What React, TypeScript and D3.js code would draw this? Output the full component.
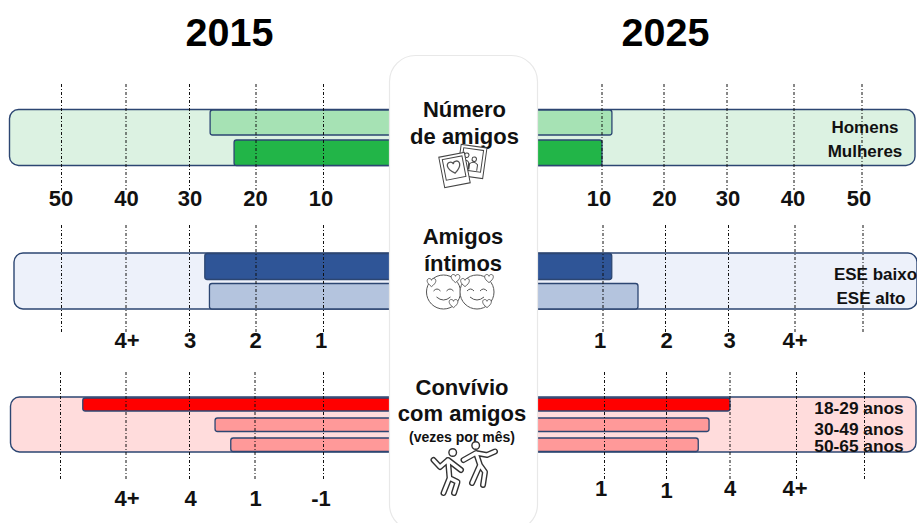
import React from "react";
import * as d3 from "d3";

// ---------- data ----------
const years = ["2015", "2025"];

const friendsCategories = ["Homens", "Mulheres"];
const friends2015 = [26.9, 23.3];
const friends2025 = [11.6, 10.0];
const friendsTicks = ["50", "40", "30", "20", "10"];
const friendsTicksRight = ["10", "20", "30", "40", "50"];

const closeCategories = ["ESE baixo", "ESE alto"];
const close2015 = [2.77, 2.7];
const close2025 = [1.14, 1.56];
const closeTicks = ["", "4+", "3", "2", "1"];
const closeTicksRight = ["1", "2", "3", "4+", ""];

const socialCategories = ["18-29 anos", "30-49 anos", "50-65 anos"];
const social2015 = [4.66, 2.61, 2.37];
const social2025 = [3.0, 2.67, 2.5];
const socialTicks = ["", "4+", "4", "1", "-1"];
const socialTicksRight = ["1", "1", "4", "4+", ""];

// tick steps: 5 = outermost gridline, 1 = innermost
const steps = [5, 4, 3, 2, 1];

// ---------- layout ----------
const FONT = "'Liberation Sans', Arial, sans-serif";
const STROKE = "#2c4672";

type Panel = {
  x: number; x1: number; y0: number; y1: number; bg: string; colors: string[];
  bars: [number, number][]; v2015: number[]; v2025: number[]; unit: number;
  cats: string[]; catX: number[]; catY: number[]; catSize: number;
  gridL: number[]; gridR: number[]; gridY: [number, number];
  ticksL: string[]; ticksR: string[];
  labL: number[]; labR: number[]; baseL: number; baseR: number[];
};

const panels: Panel[] = [
  {
    x: 9.5, x1: 915, y0: 109.5, y1: 165.5, bg: "#dcf2e2", colors: ["#a6e2b4", "#22b548"],
    bars: [[110, 135], [140, 165.5]], v2015: friends2015, v2025: friends2025, unit: 10,
    cats: friendsCategories, catX: [865, 865], catY: [132.5, 156.5], catSize: 17,
    gridL: [61.5, 126, 189.5, 256, 323.5], gridR: [602, 664, 727, 794, 862], gridY: [84, 190],
    ticksL: friendsTicks, ticksR: friendsTicksRight,
    labL: [61, 126.5, 190, 255.5, 321], labR: [599, 664.5, 728, 793, 859], baseL: 205.5,
    baseR: [206, 206, 206, 206, 206],
  },
  {
    x: 14, x1: 917, y0: 253, y1: 309, bg: "#edf1fa", colors: ["#2f5597", "#b4c4de"],
    bars: [[253.5, 279.5], [283.5, 309]], v2015: close2015, v2025: close2025, unit: 1,
    cats: closeCategories, catX: [875.5, 871], catY: [280, 303.5], catSize: 17,
    gridL: [61.5, 126, 189.5, 256, 323.5], gridR: [603, 665.5, 728.5, 795, 863], gridY: [225, 333],
    ticksL: closeTicks, ticksR: closeTicksRight,
    labL: [61, 127, 190, 255.5, 321], labR: [600, 666.5, 729.5, 795, 860], baseL: 347.5,
    baseR: [347.5, 347.5, 347.5, 347.5, 347.5],
  },
  {
    x: 10.5, x1: 916, y0: 397, y1: 452, bg: "#ffdcdc", colors: ["#ff0000", "#ff9999", "#ff9999"],
    bars: [[398, 411], [418, 431.5], [438, 451.5]], v2015: social2015, v2025: social2025, unit: 1,
    cats: socialCategories, catX: [859, 859, 859], catY: [414, 435, 452], catSize: 17.3,
    gridL: [60.5, 126, 189.5, 255, 323.5], gridR: [604.5, 666.5, 730, 796.5, 864.5], gridY: [372, 480],
    ticksL: socialTicks, ticksR: socialTicksRight,
    labL: [60, 127, 190.5, 255.5, 321], labR: [601, 666.5, 730, 795, 860], baseL: 505.5,
    baseR: [495.5, 497.5, 495.5, 495.5, 495.5],
  },
];

const Heart = ({ x, y, s = 1 }: { x: number; y: number; s?: number }) => (
  <path
    transform={`translate(${x},${y}) scale(${s})`}
    d="M0,4 C-7,-1 -5,-5 -2.5,-5 C-1,-5 0,-4 0,-3 C0,-4 1,-5 2.5,-5 C5,-5 7,-1 0,4 Z"
    fill="#fff" stroke="#555" strokeWidth={1}
  />
);

const Smiley = ({ cx, cy }: { cx: number; cy: number }) => (
  <g fill="none" stroke="#555" strokeWidth={1}>
    <circle cx={cx} cy={cy} r={17} fill="#fff" />
    <path d={`M${cx - 10},${cy - 1} q3.5,-4 7,0`} />
    <path d={`M${cx + 3},${cy - 1} q3.5,-4 7,0`} />
    <path d={`M${cx - 7},${cy + 5} q7,6 14,0`} />
    <Heart x={cx - 12} y={cy - 9} s={0.9} />
    <Heart x={cx + 12} y={cy - 13} s={0.9} />
    <Heart x={cx + 10} y={cy + 12} s={0.9} />
  </g>
);

const Polaroids = () => (
  <g fill="#fff" stroke="#444" strokeWidth={1}>
    <g transform="rotate(8 472 161)">
      <rect x={459} y={146} width={26} height={31} />
      <rect x={462} y={149} width={20} height={22} />
      <circle cx={466} cy={156} r={2.2} />
      <circle cx={474} cy={159} r={2.2} />
      <path d="M463,170 v-7 q3,-4 6,0 v7 M470,170 v-6 q4,-4 8,0 v6" fill="none" />
    </g>
    <g transform="rotate(-11 454.5 170)">
      <rect x={441.5} y={154.5} width={26} height={31} />
      <rect x={444.5} y={157.5} width={20} height={21} />
      <Heart x={454.5} y={168} s={1.3} />
    </g>
  </g>
);

const limbs1 = "M433.5,460 L440,467 L448,460 L461,470 M448,460 L449.5,478 L443.5,493 M449.5,478 L457.5,482 L454,493";
const limbs2 = "M463.5,460 L476,453 L487,455 L495,451.5 M476,453 L480,465 L472,483 M480,465 L485,472 L483,485";

const Dancers = () => (
  <g fill="none" strokeLinecap="round" strokeLinejoin="round">
    <path d={limbs1} stroke="#333" strokeWidth={6} />
    <path d={limbs2} stroke="#333" strokeWidth={6} />
    <path d={limbs1} stroke="#fff" strokeWidth={3.2} />
    <path d={limbs2} stroke="#fff" strokeWidth={3.2} />
    <circle cx={452.7} cy={452.5} r={3.8} fill="#fff" stroke="#333" strokeWidth={1.4} />
    <circle cx={475.7} cy={445.5} r={3.8} fill="#fff" stroke="#333" strokeWidth={1.4} />
  </g>
);

const PanelView = ({ p }: { p: Panel }) => {
  const left = d3.scaleLinear().domain(steps).range(p.gridL);
  const right = d3.scaleLinear().domain([...steps].reverse()).range(p.gridR);
  const gridLine = d3.line();
  return (
    <g>
      <rect x={p.x} y={p.y0} width={p.x1 - p.x} height={p.y1 - p.y0} rx={9}
        fill={p.bg} stroke={STROKE} strokeWidth={1.4} />
      {p.bars.map(([y0, y1], i) => {
        const x0 = left(p.v2015[i] / p.unit);
        const x1 = right(p.v2025[i] / p.unit);
        return (
          <rect key={i} x={x0} y={y0} width={x1 - x0} height={y1 - y0} rx={2.5}
            fill={p.colors[i]} stroke={STROKE} strokeWidth={1.3} />
        );
      })}
      {[...p.gridL, ...p.gridR].map((x, i) => (
        <path key={i} d={gridLine([[x, p.gridY[0]], [x, p.gridY[1]]]) as string}
          stroke="#111" strokeWidth={1} strokeDasharray="3 2 1 2" fill="none" />
      ))}
      {p.cats.map((c, i) => (
        <text key={c} x={p.catX[i]} y={p.catY[i]} textAnchor="middle" fontSize={p.catSize}
          fontWeight={700} fontFamily={FONT} fill="#111">{c}</text>
      ))}
      {p.ticksL.map((t, i) => (
        <text key={i} x={p.labL[i]} y={p.baseL} textAnchor="middle" fontSize={22}
          fontWeight={700} fontFamily={FONT} fill="#111">{t}</text>
      ))}
      {p.ticksR.map((t, i) => (
        <text key={i} x={p.labR[i]} y={p.baseR[i]} textAnchor="middle" fontSize={22}
          fontWeight={700} fontFamily={FONT} fill="#111">{t}</text>
      ))}
    </g>
  );
};

const CardText = ({ x, y, size = 22, children }: { x: number; y: number; size?: number; children: string }) => (
  <text x={x} y={y} textAnchor="middle" fontSize={size} fontWeight={700} fontFamily={FONT} fill="#111">{children}</text>
);

export default function App() {
  return (
    <svg width={917} height={523} viewBox="0 0 917 523"
      style={{ position: "absolute", left: 0, top: 0, background: "#fff" }}>
      <text x={229.5} y={45.5} textAnchor="middle" fontSize={39.5} fontWeight={700} fontFamily={FONT} fill="#000">{years[0]}</text>
      <text x={665.5} y={45.5} textAnchor="middle" fontSize={39.5} fontWeight={700} fontFamily={FONT} fill="#000">{years[1]}</text>
      {panels.map((p, i) => <PanelView key={i} p={p} />)}
      <rect x={389.5} y={55.5} width={148} height={475} rx={26} fill="#fff" stroke="#e8e8e8" strokeWidth={1.2} />
      <CardText x={464.5} y={117}>Número</CardText>
      <CardText x={464.5} y={143.5}>de amigos</CardText>
      <Polaroids />
      <CardText x={463} y={244}>Amigos</CardText>
      <CardText x={463} y={270.5}>íntimos</CardText>
      <Smiley cx={443.5} cy={292} />
      <Smiley cx={477} cy={292} />
      <CardText x={462} y={395}>Convívio</CardText>
      <CardText x={462} y={421}>com amigos</CardText>
      <CardText x={462} y={442} size={14}>(vezes por mês)</CardText>
      <Dancers />
    </svg>
  );
}
